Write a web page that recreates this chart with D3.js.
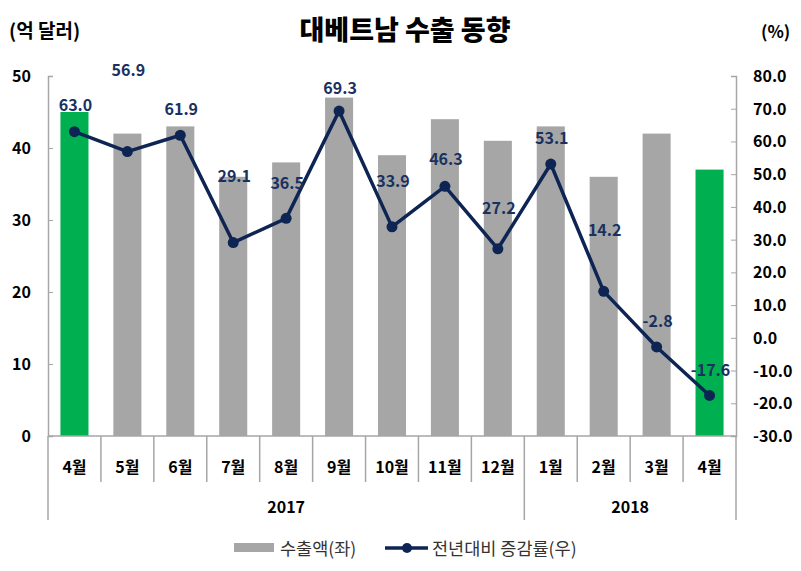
<!DOCTYPE html>
<html><head><meta charset="utf-8">
<script src="https://cdn.jsdelivr.net/npm/d3@7"></script>
<style>body{margin:0;background:#fff}svg{display:block}text{font-family:"Noto Sans CJK KR","Noto Sans",sans-serif}</style>
</head><body>
<script>
const months = ["4월","5월","6월","7월","8월","9월","10월","11월","12월","1월","2월","3월","4월"];
const years = [{label:"2017", from:0, to:9},{label:"2018", from:9, to:13}];
const exports = [45,42,43,36,38,47,39,44,41,43,36,42,37];
const growth = [63.0,56.9,61.9,29.1,36.5,69.3,33.9,46.3,27.2,53.1,14.2,-2.8,-17.6];
const highlight = [true,false,false,false,false,false,false,false,false,false,false,false,true];
const labelDy = [-27,-82,-26,-67,-35,-23,-46,-27,-41,-26,-61,-26,-25];
const leftTicks = [0,10,20,30,40,50];
const rightTicks = [-30,-20,-10,0,10,20,30,40,50,60,70,80];

const W=801,H=571, L=48, R=736, T=76, B=436;
const svg=d3.select("body").append("svg").attr("width",W).attr("height",H);
const x=d3.scaleBand().domain(d3.range(months.length)).range([L,R]).paddingInner(0.47).paddingOuter(0.235);
const xb=d3.scaleBand().domain(d3.range(months.length)).range([L,R]);
const yL=d3.scaleLinear().domain([0,50]).range([B,T]);
const yR=d3.scaleLinear().domain([-30,80]).range([B,T]);
const axisCol="#a6a6a6";

// title
svg.append("text").attr("x",405).attr("y",40).attr("text-anchor","middle").attr("font-size",27).attr("font-weight",900).attr("fill","#000").text("대베트남 수출 동향");
svg.append("text").attr("x",9).attr("y",38).attr("font-size",19).attr("font-weight",700).attr("fill","#000").text("(억 달러)");
svg.append("text").attr("x",761).attr("y",38).attr("font-size",17).attr("font-weight",700).attr("fill","#000").text("(%)");

// bars
svg.selectAll("rect.bar").data(exports).join("rect").attr("class","bar")
 .attr("x",(d,i)=>x(i)).attr("width",x.bandwidth())
 .attr("y",d=>yL(d)).attr("height",d=>B-yL(d))
 .attr("fill",(d,i)=>highlight[i]?"#00b050":"#a6a6a6");

// left axis
const gl=svg.append("g").attr("transform",`translate(${L},0)`)
 .call(d3.axisRight(yL).tickValues(leftTicks).tickSize(5).tickFormat(""));
gl.select(".domain").attr("stroke",axisCol).attr("stroke-width",1.5);
gl.selectAll(".tick line").attr("stroke",axisCol);
svg.selectAll("text.ll").data(leftTicks).join("text").attr("class","ll")
 .attr("x",31).attr("y",d=>yL(d)+6).attr("text-anchor","end").attr("font-size",16).attr("font-weight",700).attr("fill","#000").text(d=>d);

// right axis
const gr=svg.append("g").attr("transform",`translate(${R},0)`)
 .call(d3.axisLeft(yR).tickValues(rightTicks).tickSize(5).tickFormat(""));
gr.select(".domain").attr("stroke",axisCol).attr("stroke-width",1.5);
gr.selectAll(".tick line").attr("stroke",axisCol);
svg.selectAll("text.rl").data(rightTicks).join("text").attr("class","rl")
 .attr("x",753).attr("y",d=>yR(d)+6).attr("text-anchor","start").attr("font-size",16).attr("font-weight",700).attr("fill","#000").text(d=>d.toFixed(1));

// x axis
svg.append("line").attr("x1",L).attr("x2",R).attr("y1",B).attr("y2",B).attr("stroke",axisCol).attr("stroke-width",1.5);
const boundaries=d3.range(1,months.length);
svg.selectAll("line.cb").data(boundaries).join("line").attr("class","cb")
 .attr("x1",i=>xb(i)).attr("x2",i=>xb(i)).attr("y1",B).attr("y2",i=>years.some(y=>y.from===i)?520:482)
 .attr("stroke",axisCol).attr("stroke-width",1.5);
[L,R].forEach(v=>svg.append("line").attr("x1",v).attr("x2",v).attr("y1",B).attr("y2",520).attr("stroke",axisCol).attr("stroke-width",1.5));
svg.selectAll("text.m").data(months).join("text").attr("class","m")
 .attr("x",(d,i)=>xb(i)+xb.bandwidth()/2).attr("y",473).attr("text-anchor","middle").attr("font-size",16).attr("font-weight",700).attr("fill","#000").text(d=>d);
svg.selectAll("text.yr").data(years).join("text").attr("class","yr")
 .attr("x",d=>(xb(d.from)+ (d.to<months.length?xb(d.to):R))/2).attr("y",513).attr("text-anchor","middle").attr("font-size",16).attr("font-weight",700).attr("fill","#000").text(d=>d.label);

// line
const navy="#0e2554";
const cx=i=>xb(i)+xb.bandwidth()/2;
svg.append("path").datum(growth).attr("fill","none").attr("stroke",navy).attr("stroke-width",3.5).attr("stroke-linejoin","round")
 .attr("d",d3.line().x((d,i)=>cx(i)).y(d=>yR(d)));
svg.selectAll("circle.pt").data(growth).join("circle").attr("class","pt")
 .attr("cx",(d,i)=>cx(i)).attr("cy",d=>yR(d)).attr("r",5.5).attr("fill",navy);
svg.selectAll("text.dl").data(growth).join("text").attr("class","dl")
 .attr("x",(d,i)=>cx(i)+1).attr("y",(d,i)=>yR(d)+labelDy[i]+6).attr("text-anchor","middle")
 .attr("font-size",16).attr("font-weight",700).attr("fill","#1a3160").text(d=>d.toFixed(1));

// legend
const lg=svg.append("g");
lg.append("rect").attr("x",234).attr("y",543).attr("width",40).attr("height",9).attr("fill","#a6a6a6");
lg.append("text").attr("x",280).attr("y",555).attr("font-size",17.5).attr("fill","#333").text("수출액(좌)");
lg.append("line").attr("x1",385).attr("x2",428).attr("y1",548).attr("y2",548).attr("stroke",navy).attr("stroke-width",3.5);
lg.append("circle").attr("cx",407).attr("cy",548).attr("r",5).attr("fill",navy);
lg.append("text").attr("x",432).attr("y",555).attr("font-size",17.5).attr("fill","#333").text("전년대비 증감률(우)");
</script>
</body></html>
